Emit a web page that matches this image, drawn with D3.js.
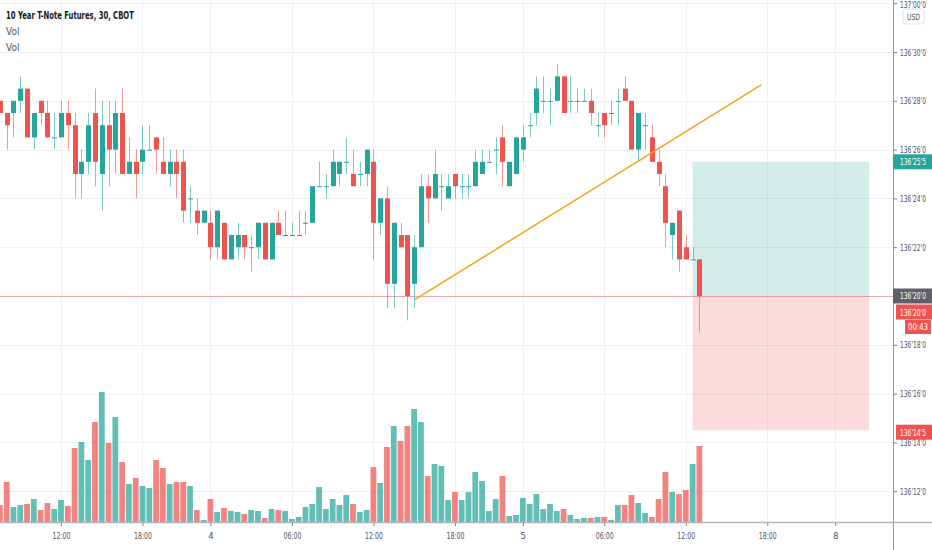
<!DOCTYPE html>
<html lang="en">
<head>
<meta charset="UTF-8">
<title>10 Year T-Note Futures, 30, CBOT</title>
<script src="https://d3js.org/d3.v7.min.js"></script>
<style>
  body { margin: 0; background: #fff; overflow: hidden; }
  svg text { font-family: "Liberation Sans Narrow", "DejaVu Sans Condensed", "Liberation Sans", sans-serif; }
</style>
</head>
<body>
<script>
// 30 minute bars, numbered so that bar 0 is the first 12:00 on the time axis
// prices are in 32nds above 136 (25.5 -> 136'25'5)
var firstBar = -9;
var opens  = [28, 27.5, 27.5, 28, 28.5, 26.5, 28, 27.5, 26.5, 26.5, 27.5, 27, 25, 25.5, 27.5, 25, 27, 26, 27.5, 25, 25.5, 25.5,
              26, 26.5, 25.5, 25, 25.5, 25.5, 24, 23.5, 23, 23, 22, 23, 21.5, 22, 22.5, 22, 22, 23, 21.5, 23, 22.5, 22.5,
              22.5, 23, 23, 24.5, 24.5, 24.5, 25, 25.5, 25, 25, 25, 25.5, 23, 24, 20.5, 22.5, 22.5, 20.5, 22, 24.5, 24,
              24.5, 24, 25, 24.5, 24.5, 24.5, 25, 25.5, 26, 26.5, 24.5, 25, 26, 27, 27.5, 28, 28, 28, 29, 28, 28, 28,
              28, 27, 27.5, 27.5, 28, 28.5, 28, 26, 27, 26.5, 25.5, 24.5, 22.5, 23.5, 22, 21.5, 21.5];
var highs  = [28, 27.5, 28, 29, 28.5, 27.5, 28, 28, 27.5, 28, 28, 27.5, 26, 27.5, 28.5, 28, 28, 28, 28.5, 26.5, 26, 27,
              27, 26.5, 26.5, 26, 26, 26, 24.5, 24, 23.5, 23.5, 23.5, 23, 22.5, 23, 22.5, 22.5, 23, 23, 23, 23.5, 23.5,
              23, 23.5, 23.5, 24.5, 25.5, 25, 26, 25.5, 26.5, 26, 25.5, 26, 26, 24, 24.5, 23, 23, 22.5, 22.5, 25, 25,
              26, 25, 25, 25, 25, 25, 26, 26, 26, 26.5, 27, 25.5, 26.5, 27, 27.5, 29, 29, 28.5, 29.5, 29, 29, 28.5,
              28.5, 28.5, 27.5, 27.5, 28, 28.5, 29, 28, 27.5, 27.5, 27, 26, 25, 23, 23.5, 22.5, 22, 21.5];
var lows   = [27.5, 26, 26.5, 27.5, 26.5, 26, 27, 26.5, 26, 26.5, 26, 24, 24, 25, 24.5, 23.5, 24.5, 25, 25, 25, 24, 25,
              26, 25, 25, 24.5, 24, 23, 23, 22.5, 23, 21.5, 21.5, 21.5, 21.5, 21.5, 21.5, 21, 21.5, 21.5, 21.5, 22.5,
              22.5, 22.5, 22.5, 22.5, 23, 24.5, 24, 24.5, 24.5, 25, 24.5, 24.5, 24.5, 21.5, 22.5, 19.5, 19.5, 22, 19,
              19.5, 22, 23, 24, 23.5, 24, 24, 24, 24, 24.5, 25, 25.5, 25, 24.5, 24.5, 25, 25.5, 26.5, 27, 27.5, 27,
              28, 27.5, 27.5, 27.5, 28, 27, 26.5, 26.5, 27, 27, 28, 26, 25.5, 26, 25.5, 24.5, 22, 21.5, 21, 21.5, 21.5,
              18.5];
var closes = [27.5, 27, 28, 28.5, 26.5, 27.5, 27.5, 26.5, 26.5, 27.5, 27, 25, 25.5, 27, 25.5, 27, 26, 27.5, 25, 25.5,
              25, 26, 26, 26, 25, 25.5, 25, 23.5, 24, 23, 23.5, 22, 23.5, 21.5, 22.5, 22.5, 22, 22, 23, 21.5, 23, 22.5,
              22.5, 22.5, 22.5, 23, 24.5, 24.5, 24.5, 25.5, 25.5, 25.5, 24.5, 25, 26, 23, 24, 20.5, 23, 22, 20, 22,
              24.5, 24, 25, 24.5, 24.5, 24.5, 24.5, 24.5, 25.5, 25.5, 25.5, 26, 25.5, 25.5, 26.5, 26.5, 27, 28.5, 28,
              28, 29, 27.5, 28, 28, 28, 27.5, 27, 27, 27.5, 28, 28, 26, 27.5, 27, 25.5, 25, 23, 23, 21.5, 21.5, 21.5,
              20];
// volume, thousands of contracts
var volumes = [17, 40, 15, 17, 18, 23, 12, 19, 13, 22, 16, 74, 80, 62, 100, 130, 79, 105, 60, 38, 44, 36, 34, 62, 54,
               38, 40, 40, 36, 12, 2, 23, 10, 14, 11, 10, 8, 12, 11, 4, 13, 12, 11, 3, 5, 15, 18, 35, 13, 23, 17, 27,
               18, 10, 12, 55, 39, 75, 96, 81, 96, 113, 100, 46, 58, 56, 22, 30, 22, 30, 50, 41, 11, 23, 46, 6, 7, 24,
               18, 28, 13, 18, 11, 13, 7, 3, 4, 4, 5, 5, 2, 17, 17, 27, 19, 9, 5, 23, 50, 30, 28, 32, 58, 76];

var tickBars   = [0, 12, 22, 34, 46, 58, 68, 80, 92, 104, 114];
var tickLabels = ["12:00", "18:00", "4", "06:00", "12:00", "18:00", "5", "06:00", "12:00", "18:00", "8"];
var priceTicks = [12, 14, 16, 18, 20, 22, 24, 26, 28, 30, 32];

// drawings
var trendBars   = [52.1, 103.1];
var trendPrices = [19.85, 28.65];
var positionBars = [93, 119];
var entryPrice = 20, targetPrice = 25.5, stopPrice = 14.5;
var lastPrice = 20;
var countdown = "00:43";

var W = 932, H = 550;
var plotRight = 893, plotBottom = 522;
var labelRight = 926;
var upColor = "#26a69a", downColor = "#ef5350";

var bars = opens.map(function (o, k) {
    return {i: firstBar + k, o: o, h: highs[k], l: lows[k], c: closes[k], v: volumes[k]};
});

var x = d3.scaleLinear().domain([0, 114]).range([61, 835.2]);
var y = d3.scaleLinear().domain([12, 32]).range([491.2, 3.2]);
var yVol = d3.scaleLinear().domain([0, 130]).range([plotBottom, 392]);

function fmt(v) {
    var t = 136 * 32 + v;
    var whole = Math.floor(t / 32);
    var r = t - whole * 32;
    var n = Math.floor(r);
    var half = Math.round((r - n) * 10);
    return whole + "'" + (n < 10 ? "0" : "") + n + "'" + half;
}

// squeeze text horizontally to the narrow width the chart uses.
// tx is where the anchor point sits, in the parent's coordinates
function narrow(sel, len, tx) {
    sel.each(function () {
        var t = d3.select(this);
        var w = this.getComputedTextLength();
        var s = w > len ? len / w : 1;
        t.attr("x", 0)
         .attr("transform", "translate(" + (tx || 0) + ",0) scale(" + s + ",1)");
    });
}

var svg = d3.select("body").append("svg")
    .attr("width", W)
    .attr("height", H);

svg.append("defs").append("clipPath").attr("id", "plot")
    .append("rect").attr("width", plotRight).attr("height", plotBottom);

var plot = svg.append("g").attr("clip-path", "url(#plot)");

// grid
plot.selectAll("line.hgrid").data(priceTicks).enter().append("line")
    .attr("class", "hgrid")
    .attr("x1", 0).attr("x2", plotRight)
    .attr("y1", function (d) { return Math.round(y(d)) + 0.5; })
    .attr("y2", function (d) { return Math.round(y(d)) + 0.5; })
    .attr("stroke", "#eef1f6");
plot.selectAll("line.vgrid").data(tickBars).enter().append("line")
    .attr("class", "vgrid")
    .attr("y1", 0).attr("y2", plotBottom)
    .attr("x1", function (d) { return Math.round(x(d)) + 0.5; })
    .attr("x2", function (d) { return Math.round(x(d)) + 0.5; })
    .attr("stroke", "#eef1f6");

// volume
plot.selectAll("rect.vol").data(bars).enter().append("rect")
    .attr("class", "vol")
    .attr("x", function (d) { return x(d.i) - 2.9; })
    .attr("width", 5.8)
    .attr("y", function (d) { return yVol(d.v); })
    .attr("height", function (d) { return plotBottom - yVol(d.v); })
    .attr("fill", function (d) { return d.c >= d.o ? upColor : downColor; })
    .attr("fill-opacity", 0.72);

// long position box
plot.append("rect")
    .attr("x", x(positionBars[0])).attr("width", x(positionBars[1]) - x(positionBars[0]))
    .attr("y", y(targetPrice)).attr("height", y(entryPrice) - y(targetPrice))
    .attr("fill", upColor).attr("fill-opacity", 0.2);
plot.append("rect")
    .attr("x", x(positionBars[0])).attr("width", x(positionBars[1]) - x(positionBars[0]))
    .attr("y", y(entryPrice)).attr("height", y(stopPrice) - y(entryPrice))
    .attr("fill", downColor).attr("fill-opacity", 0.2);

// last price line
plot.append("line")
    .attr("x1", 0).attr("x2", plotRight)
    .attr("y1", Math.round(y(lastPrice)) + 0.5).attr("y2", Math.round(y(lastPrice)) + 0.5)
    .attr("stroke", downColor).attr("stroke-opacity", 0.45);

// candles
var candle = plot.selectAll("g.candle").data(bars).enter().append("g")
    .attr("class", "candle");
candle.append("line")
    .attr("x1", function (d) { return Math.round(x(d.i)) + 0.5; })
    .attr("x2", function (d) { return Math.round(x(d.i)) + 0.5; })
    .attr("y1", function (d) { return y(d.h); })
    .attr("y2", function (d) { return y(d.l); })
    .attr("stroke", function (d) { return d.c >= d.o ? upColor : downColor; })
    .attr("stroke-opacity", 0.6);
candle.append("rect")
    .attr("x", function (d) { return Math.round(x(d.i)) - 2; })
    .attr("width", 5)
    .attr("y", function (d) { return y(Math.max(d.o, d.c)); })
    .attr("height", function (d) { return Math.max(1, Math.abs(y(d.o) - y(d.c))); })
    .attr("fill", function (d) { return d.c >= d.o ? upColor : downColor; });

// trend line
plot.append("line")
    .attr("x1", x(trendBars[0])).attr("y1", y(trendPrices[0]))
    .attr("x2", x(trendBars[1])).attr("y2", y(trendPrices[1]))
    .attr("stroke", "#f7a21b").attr("stroke-width", 1.5);

// price axis
var yAxis = svg.append("g")
    .attr("transform", "translate(" + plotRight + ",0)")
    .call(d3.axisRight(y).tickValues(priceTicks).tickFormat(fmt).tickSize(4));
yAxis.select(".domain").remove();
yAxis.selectAll(".tick line").attr("stroke", "#787b86");
yAxis.selectAll(".tick text")
    .attr("text-anchor", "end")
    .attr("fill", "#50535e").style("font-size", "9.5px")
    .call(narrow, 26, labelRight - plotRight);
// the topmost label sits on the window edge; keep it just inside
yAxis.selectAll(".tick text")
    .filter(function (d) { return d === priceTicks[priceTicks.length - 1]; })
    .attr("y", 1.5);

svg.append("line")
    .attr("x1", plotRight + 0.5).attr("x2", plotRight + 0.5)
    .attr("y1", 0).attr("y2", H)
    .attr("stroke", "#9598a1");

// time axis
var xAxis = svg.append("g")
    .attr("transform", "translate(0," + plotBottom + ")")
    .call(d3.axisBottom(x).tickValues(tickBars)
        .tickFormat(function (d, k) { return tickLabels[k]; })
        .tickSize(4).tickPadding(6));
xAxis.select(".domain").remove();
xAxis.selectAll(".tick line").attr("stroke", "#787b86");
xAxis.selectAll(".tick text").attr("fill", "#50535e").style("font-size", "9.5px")
    .call(narrow, 18);

svg.append("line")
    .attr("x1", 0).attr("x2", W)
    .attr("y1", plotBottom + 0.5).attr("y2", plotBottom + 0.5)
    .attr("stroke", "#b2b5be").attr("stroke-width", 1.5);

// price labels on the axis
function priceTag(v, fill, dy, left) {
    var cy = y(v) + (dy || 0);
    var x0 = left || plotRight;
    var g = svg.append("g");
    g.append("rect")
        .attr("x", x0).attr("y", cy - 7.5)
        .attr("width", W - x0).attr("height", 15)
        .attr("fill", fill);
    g.append("text")
        .attr("y", cy + 3.5)
        .attr("text-anchor", "end")
        .attr("fill", "#fff").style("font-size", "9.5px")
        .text(fmt(v))
        .call(narrow, 26, labelRight);
}
priceTag(targetPrice, upColor);
priceTag(entryPrice, "#5d606b");
priceTag(lastPrice, downColor, 16, plotRight + 3);
priceTag(stopPrice, downColor, 2, plotRight + 3);

svg.append("rect")
    .attr("x", 905).attr("y", y(lastPrice) + 24)
    .attr("width", 26).attr("height", 14)
    .attr("fill", downColor);
svg.append("text")
    .attr("y", y(lastPrice) + 34.5)
    .attr("text-anchor", "end")
    .attr("fill", "#fff").style("font-size", "9.5px")
    .text(countdown)
    .call(narrow, 20, 928);

// currency box
svg.append("rect")
    .attr("x", 903).attr("y", 9).attr("width", 21).attr("height", 15).attr("rx", 3)
    .attr("fill", "#fff").attr("stroke", "#e0e3eb");
svg.append("text")
    .attr("y", 20)
    .attr("text-anchor", "middle")
    .attr("fill", "#50535e").style("font-size", "8.5px")
    .text("USD")
    .call(narrow, 13, 913.5);

// legend
svg.append("text")
    .attr("y", 19)
    .attr("fill", "#131722").style("font-size", "10px").style("font-weight", "bold")
    .text("10 Year T-Note Futures, 30, CBOT")
    .call(narrow, 128, 6);
svg.selectAll("text.legend").data(["Vol", "Vol"]).enter().append("text")
    .attr("class", "legend")
    .attr("x", 6)
    .attr("y", function (d, k) { return 35 + k * 16; })
    .attr("fill", "#50535e").style("font-size", "10px")
    .text(function (d) { return d; });
</script>
</body>
</html>
